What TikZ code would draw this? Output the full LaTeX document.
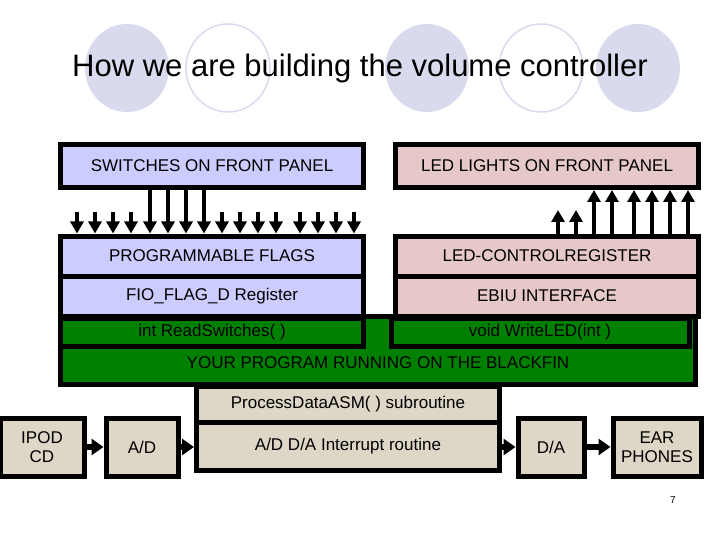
\documentclass[tikz,border=0pt]{standalone}
\usepackage{fontspec}
\setmainfont{Liberation Sans}
\usetikzlibrary{arrows.meta}
\definecolor{lav}{RGB}{204,204,255}
\definecolor{pinkb}{RGB}{230,200,200}
\definecolor{grn}{RGB}{0,128,0}
\definecolor{tan}{RGB}{222,214,198}
\definecolor{circ}{RGB}{218,218,238}
\begin{document}
\begin{tikzpicture}[x=1pt,y=-1pt,
  box/.style={draw=black,line width=5pt,inner sep=0pt,font=\fontsize{17}{19}\selectfont},
  sarr/.style={line width=3.5pt,-{Triangle[width=13pt,length=12pt]}},
  harr/.style={line width=6pt,-{Triangle[width=16pt,length=12pt]}}]
\useasboundingbox (0,0) rectangle (720,540);
% title circles
\fill[circ] (127,68) ellipse (42 and 44);
\draw[circ,line width=1.5pt] (228,68) ellipse (42 and 44);
\fill[circ] (427,68) ellipse (42 and 44);
\draw[circ,line width=1.5pt] (541,68) ellipse (42 and 44);
\fill[circ] (638,68) ellipse (42 and 44);
\node[font=\fontsize{31}{34}\selectfont] (title) at (360,68) {How we are building the volume controller};
% top boxes
\node[box,fill=lav,minimum width=303,minimum height=43] (sw) at (212,166) {SWITCHES ON FRONT PANEL};
\node[box,fill=pinkb,minimum width=303,minimum height=43] (led) at (547,166) {LED LIGHTS ON FRONT PANEL};
% left stack
\node[box,fill=lav,minimum width=303,minimum height=40] (pf) at (212,256) {PROGRAMMABLE FLAGS};
\node[box,fill=lav,minimum width=303,minimum height=40] (fio) at (212,296) {FIO\_FLAG\_D Register};
% right stack
\node[box,fill=pinkb,minimum width=303,minimum height=40] (lcr) at (547,256) {LED-CONTROLREGISTER};
\node[box,fill=pinkb,minimum width=303,minimum height=40] (ebiu) at (547,296) {EBIU INTERFACE};
% green program
\node[box,fill=grn,minimum width=635,minimum height=68] (prog) at (378,350) {};
\node[box,fill=grn,minimum width=303,minimum height=28] (rs) at (212,332) {int ReadSwitches( )};
\node[box,fill=grn,minimum width=298,minimum height=28] (wl) at (540,332) {void WriteLED(int )};
\node[font=\fontsize{17}{19}\selectfont] (bf) at (378,363) {YOUR PROGRAM RUNNING ON THE BLACKFIN};
% switch arrows
\foreach \x in {77,95,113,131,222,240,258,276,300,318,336,354}
  \draw[sarr] (\x,212) -- (\x,234 |- pf.north);
\foreach \x in {150,168,186,204}
  \draw[sarr] (\x,0 |- sw.south) -- (\x,0 |- pf.north);
% led arrows
\foreach \x in {558,576}
  \draw[sarr] (\x,0 |- lcr.north) -- (\x,210);
\foreach \x in {594,612,634,652,670,688}
  \draw[sarr] (\x,0 |- lcr.north) -- (\x,0 |- led.south);
% bottom chain
\node[box,fill=tan,minimum width=303,minimum height=36] (pd) at (348,404) {ProcessDataASM( ) subroutine};
\node[box,fill=tan,minimum width=303,minimum height=48] (isr) at (348,446) {A/D D/A Interrupt routine};
\node[box,fill=tan,minimum width=84,minimum height=58,align=center] (ipod) at (42,447) {IPOD\\CD};
\node[box,fill=tan,minimum width=72,minimum height=58] (ad) at (142,447) {A/D};
\node[box,fill=tan,minimum width=66,minimum height=58] (da) at (551,447) {D/A};
\node[box,fill=tan,minimum width=88,minimum height=58,align=center] (ear) at (657,447) {EAR\\PHONES};
\draw[harr] (ipod.east) -- (ad.west);
\draw[harr] (ad.east) -- (ad.east -| isr.west);
\draw[harr] (da.west -| isr.east) -- (da.west);
\draw[harr] (da.east) -- (ear.west);
\node[font=\fontsize{10}{11}\selectfont] (pg) at (673,500) {7};
\end{tikzpicture}
\end{document}
